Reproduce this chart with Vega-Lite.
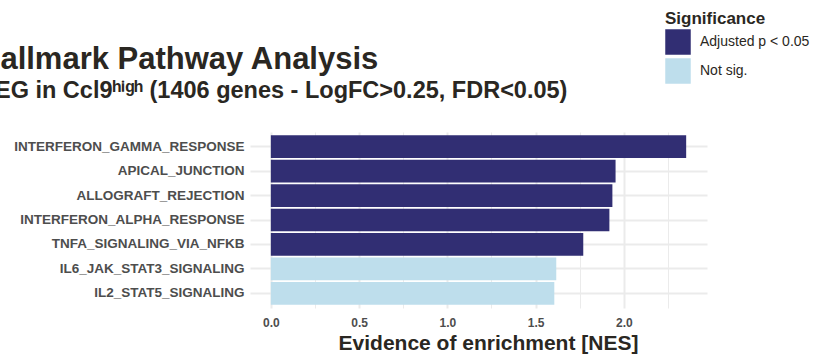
{
  "$schema": "https://vega.github.io/schema/vega-lite/v6.json",
  "width": 457,
  "height": 176,
  "autosize": {"type": "none"},
  "padding": {"left": 250, "top": 132, "right": 110, "bottom": 52},
  "background": "white",
  "config": {
    "font": "Liberation Sans",
    "view": {"stroke": null}
  },
  "title": {
    "text": "Hallmark Pathway Analysis",
    "subtitle": "DEG in Ccl9ʰⁱᵍʰ (1406 genes - LogFC>0.25, FDR<0.05)",
    "anchor": "start",
    "frame": "group",
    "dx": -272,
    "dy": 92,
    "fontSize": 31,
    "fontWeight": "bold",
    "color": "#2a2722",
    "subtitleFontSize": 23.5,
    "subtitleFontWeight": "bold",
    "subtitleColor": "#2a2722",
    "subtitlePadding": 3,
    "offset": 0
  },
  "data": {
    "values": [
      {"pathway": "INTERFERON_GAMMA_RESPONSE", "NES": 2.353, "Significance": "Adjusted p < 0.05"},
      {"pathway": "APICAL_JUNCTION", "NES": 1.953, "Significance": "Adjusted p < 0.05"},
      {"pathway": "ALLOGRAFT_REJECTION", "NES": 1.935, "Significance": "Adjusted p < 0.05"},
      {"pathway": "INTERFERON_ALPHA_RESPONSE", "NES": 1.918, "Significance": "Adjusted p < 0.05"},
      {"pathway": "TNFA_SIGNALING_VIA_NFKB", "NES": 1.770, "Significance": "Adjusted p < 0.05"},
      {"pathway": "IL6_JAK_STAT3_SIGNALING", "NES": 1.617, "Significance": "Not sig."},
      {"pathway": "IL2_STAT5_SIGNALING", "NES": 1.606, "Significance": "Not sig."}
    ]
  },
  "mark": {"type": "bar"},
  "encoding": {
    "y": {
      "field": "pathway",
      "type": "nominal",
      "sort": null,
      "scale": {"paddingInner": 0.07, "paddingOuter": 0.135},
      "axis": {
        "title": null,
        "ticks": false,
        "domain": false,
        "grid": true,
        "gridColor": "#EBEBEB",
        "gridWidth": 2,
        "labelFontSize": 13.5,
        "labelFontWeight": "bold",
        "labelColor": "#4D4D4D",
        "labelPadding": 6,
        "labelLimit": 0
      }
    },
    "x": {
      "field": "NES",
      "type": "quantitative",
      "scale": {"domain": [-0.118, 2.471], "nice": false, "zero": false},
      "axis": {
        "title": "Evidence of enrichment [NES]",
        "values": [0, 0.25, 0.5, 0.75, 1, 1.25, 1.5, 1.75, 2, 2.25],
        "labelExpr": "datum.value % 0.5 == 0 ? format(datum.value, '.1f') : ''",
        "ticks": false,
        "domain": false,
        "grid": true,
        "gridColor": "#EBEBEB",
        "gridWidth": {"condition": {"test": "datum.value % 0.5 == 0", "value": 2}, "value": 1},
        "labelFontSize": 12,
        "labelFontWeight": "bold",
        "labelColor": "#4D4D4D",
        "labelPadding": 9,
        "titleFontSize": 21,
        "titleFontWeight": "bold",
        "titleColor": "#2a2722",
        "titlePadding": 4,
        "titleX": 238,
        "titleAlign": "center"
      }
    },
    "color": {
      "field": "Significance",
      "type": "nominal",
      "scale": {"domain": ["Adjusted p < 0.05", "Not sig."], "range": ["#312E73", "#BEDEEC"]},
      "legend": {
        "orient": "none",
        "legendX": 415,
        "legendY": -121,
        "title": "Significance",
        "titleFontSize": 17,
        "titleFontWeight": "bold",
        "titleColor": "#2a2722",
        "titlePadding": 1,
        "symbolType": "square",
        "symbolSize": 650,
        "symbolStrokeWidth": 0,
        "rowPadding": 3,
        "labelFontSize": 14,
        "labelColor": "#2a2722",
        "labelOffset": 9
      }
    }
  }
}
